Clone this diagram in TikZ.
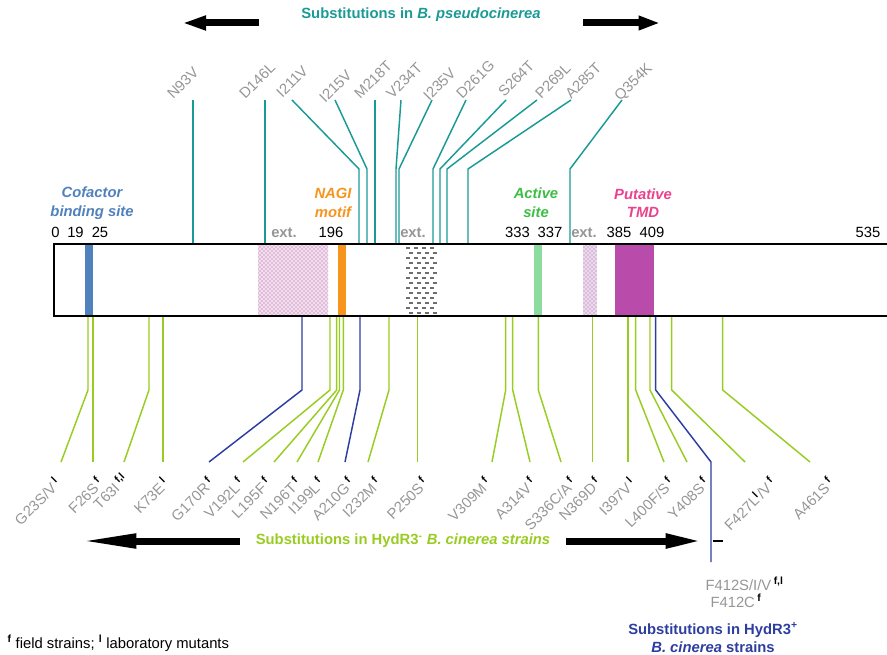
\documentclass[tikz,border=0pt]{standalone}
\usepackage{fontspec}
\setmainfont{Liberation Sans}
\usetikzlibrary{arrows.meta,patterns}

\definecolor{psteal}{RGB}{26,154,150}
\definecolor{hrlime}{RGB}{153,204,34}
\definecolor{hrblue}{RGB}{45,62,160}
\definecolor{mutgray}{RGB}{150,150,150}
\definecolor{cofblue}{RGB}{79,129,189}
\definecolor{nagiorange}{RGB}{247,148,30}
\definecolor{actgreen}{RGB}{60,190,70}
\definecolor{actband}{RGB}{140,220,160}
\definecolor{tmdpink}{RGB}{235,65,140}
\definecolor{tmdband}{RGB}{185,75,170}
\definecolor{extpink}{RGB}{180,80,160}
\definecolor{extpurple}{RGB}{170,100,175}
\definecolor{extgray}{RGB}{110,110,110}

\newcommand{\fsup}[1]{\textsuperscript{\textcolor{black}{\bfseries #1}}}

\tikzset{every picture/.style={line width=0.75pt},
  txt/.style={font=\fontsize{11.1}{14}\selectfont, inner sep=0pt},
  toplab/.style={txt, text=mutgray, rotate=45, anchor=base west},
  botlab/.style={txt, text=mutgray, rotate=45, anchor=base east},
  poslab/.style={txt, anchor=base},
  extlab/.style={txt, anchor=base, text=mutgray, font=\fontsize{11.1}{14}\selectfont\bfseries},
  domlab/.style={txt, align=center, font=\fontsize{11.1}{14}\selectfont\bfseries\itshape},
  pslink/.style={draw=psteal, line width=1.1pt},
  hrmlink/.style={draw=hrlime, line width=1.1pt},
  hrplink/.style={draw=hrblue, line width=1.1pt},
  fatarrow/.style={draw=black, line width=5.25pt}
}

\begin{document}
\begin{tikzpicture}[x=0.75pt,y=0.75pt,yscale=-1,xscale=1]
	\clip (0,0) rectangle (887,655);
	\coordinate (topknee) at (0,169);
	\coordinate (botknee) at (0,390);

	% Title B. pseudocinerea
	\node[txt, text=psteal, font=\fontsize{11.1}{14}\selectfont\bfseries] (pstitle) at (421,15) {Substitutions in \textit{B. pseudocinerea}};
	\coordinate (psla) at (259,23); \coordinate (pslb) at (182,23);
	\coordinate (psra) at (583,23); \coordinate (psrb) at (660,23);
	\draw[fatarrow, -{Triangle[length=18pt,width=10pt]}] (psla) -- (pslb);
	\draw[fatarrow, -{Triangle[length=16pt,width=10pt]}] (psra) -- (psrb);

	% Top labels
	\node[toplab] (n93) at (173,100) {N93V};
	\node[toplab] (d146) at (245,100) {D146L};
	\node[toplab] (i211) at (282,99) {I211V};
	\node[toplab] (i215) at (325,104) {I215V};
	\node[toplab] (m218) at (360,100) {M218T};
	\node[toplab] (v234) at (392,100) {V234T};
	\node[toplab] (i235) at (429,102) {I235V};
	\node[toplab] (d261) at (462,100) {D261G};
	\node[toplab] (s264) at (504,98) {S264T};
	\node[toplab] (p269) at (541,100) {P269L};
	\node[toplab] (a285) at (571,100) {A285T};
	\node[toplab] (q354) at (620,102) {Q354K};

	%Straight Lines (top)
	\coordinate (n93b) at (193,244); \coordinate (n93t) at (193,100);
	\draw[pslink] (n93b) -- (n93t);
	\coordinate (d146b) at (265,244); \coordinate (d146t) at (265,100);
	\draw[pslink] (d146b) -- (d146t);
	\coordinate (i211b) at (359,244); \coordinate (i211t) at (292,100);
	\draw[pslink] (i211b) -- (i211b |- topknee) -- (i211t);
	\coordinate (i215b) at (367,244); \coordinate (i215t) at (335,100);
	\draw[pslink] (i215b) -- (i215b |- topknee) -- (i215t);
	\coordinate (m218b) at (375,244); \coordinate (m218t) at (375,100);
	\draw[pslink] (m218b) -- (m218t);
	\coordinate (v234b) at (396,244); \coordinate (v234t) at (401,100);
	\draw[pslink] (v234b) -- (v234b |- topknee) -- (v234t);
	\coordinate (i235b) at (399,244); \coordinate (i235t) at (432,100);
	\draw[pslink] (i235b) -- (i235b |- topknee) -- (i235t);
	\coordinate (d261b) at (433,244); \coordinate (d261t) at (466,100);
	\draw[pslink] (d261b) -- (d261b |- topknee) -- (d261t);
	\coordinate (s264b) at (440,244); \coordinate (s264t) at (506,100);
	\draw[pslink] (s264b) -- (s264b |- topknee) -- (s264t);
	\coordinate (p269b) at (447,244); \coordinate (p269t) at (537,100);
	\draw[pslink] (p269b) -- (p269b |- topknee) -- (p269t);
	\coordinate (a285b) at (468,244); \coordinate (a285t) at (571,100);
	\draw[pslink] (a285b) -- (a285b |- topknee) -- (a285t);
	\coordinate (q354b) at (570,244); \coordinate (q354t) at (622,100);
	\draw[pslink] (q354b) -- (q354b |- topknee) -- (q354t);

	%Straight Lines (bottom)
	\coordinate (g23b) at (88,316); \coordinate (g23t) at (61,462);
	\draw[hrmlink] (g23b) -- (g23b |- botknee) -- (g23t);
	\coordinate (f26b) at (93,316); \coordinate (f26t) at (93,462);
	\draw[hrmlink] (f26b) -- (f26t);
	\coordinate (t63b) at (149,316); \coordinate (t63t) at (124,462);
	\draw[hrmlink] (t63b) -- (t63b |- botknee) -- (t63t);
	\coordinate (k73b) at (163,316); \coordinate (k73t) at (163,462);
	\draw[hrmlink] (k73b) -- (k73t);
	\coordinate (g170b) at (302,316); \coordinate (g170t) at (209,462);
	\draw[hrplink] (g170b) -- (g170b |- botknee) -- (g170t);
	\coordinate (v192b) at (330,316); \coordinate (v192t) at (243,462);
	\draw[hrmlink] (v192b) -- (v192b |- botknee) -- (v192t);
	\coordinate (l195b) at (336.7,316); \coordinate (l195t) at (274,462);
	\draw[hrmlink] (l195b) -- (l195b |- botknee) -- (l195t);
	\coordinate (n196b) at (339.5,316); \coordinate (n196t) at (297,462);
	\draw[hrmlink] (n196b) -- (n196b |- botknee) -- (n196t);
	\coordinate (i199b) at (343.3,316); \coordinate (i199t) at (318,462);
	\draw[hrmlink] (i199b) -- (i199b |- botknee) -- (i199t);
	\coordinate (a210b) at (360,316); \coordinate (a210t) at (345,462);
	\draw[hrplink] (a210b) -- (a210b |- botknee) -- (a210t);
	\coordinate (i232b) at (389,316); \coordinate (i232t) at (368,462);
	\draw[hrmlink] (i232b) -- (i232b |- botknee) -- (i232t);
	\coordinate (p250b) at (417.7,316); \coordinate (p250t) at (417.7,462);
	\draw[hrmlink] (p250b) -- (p250t);
	\coordinate (v309b) at (505.7,316); \coordinate (v309t) at (492,462);
	\draw[hrmlink] (v309b) -- (v309b |- botknee) -- (v309t);
	\coordinate (a314b) at (512.7,316); \coordinate (a314t) at (530,462);
	\draw[hrmlink] (a314b) -- (a314b |- botknee) -- (a314t);
	\coordinate (s336b) at (538.3,316); \coordinate (s336t) at (561,462);
	\draw[hrmlink] (s336b) -- (s336b |- botknee) -- (s336t);
	\coordinate (n369b) at (592.3,316); \coordinate (n369t) at (592.3,462);
	\draw[hrmlink] (n369b) -- (n369t);
	\coordinate (i397b) at (628,316); \coordinate (i397t) at (628,462);
	\draw[hrmlink] (i397b) -- (i397t);
	\coordinate (l400b) at (635.7,316); \coordinate (l400t) at (664,462);
	\draw[hrmlink] (l400b) -- (l400b |- botknee) -- (l400t);
	\coordinate (y408b) at (650,316); \coordinate (y408t) at (687,462);
	\draw[hrmlink] (y408b) -- (y408b |- botknee) -- (y408t);
	\coordinate (f412b) at (655.7,316); \coordinate (f412t) at (711,462); \coordinate (f412e) at (711,562);
	\draw[hrplink] (f412b) -- (f412b |- botknee) -- (f412t) -- (f412e);
	\coordinate (f427b) at (671.7,316); \coordinate (f427t) at (745,462);
	\draw[hrmlink] (f427b) -- (f427b |- botknee) -- (f427t);
	\coordinate (a461b) at (722.7,316); \coordinate (a461t) at (810,462);
	\draw[hrmlink] (a461b) -- (a461b |- botknee) -- (a461t);

	%Shape: bar with domains
	\fill[cofblue] (85,245) rectangle (93,315);
	\fill[nagiorange] (338,245) rectangle (346,315);
	\fill[actband] (534,245) rectangle (542,315);
	\fill[tmdband] (615,245) rectangle (654,315);
	\fill[extpink!18] (258,245) rectangle (328,315);
	\fill[pattern=crosshatch dots, pattern color=extpink] (258,245) rectangle (328,315);
	\fill[extpurple!25] (583,245) rectangle (597,315);
	\fill[pattern=crosshatch dots, pattern color=extpurple] (583,245) rectangle (597,315);
	\foreach \r in {0,...,13}{
	  \foreach \c in {0,1,2,3}{
	    \draw[extgray, line width=0.9pt] ({406+8*\c+mod(\r,2)*3},{248+5*\r}) -- ++(4,0);
	  }
	}
	\draw[line width=1.9pt] (54,244) rectangle (900,316);

	% Domain labels
	\node[domlab, text=cofblue] (cof) at (92,203) {Cofactor\\binding site};
	\node[domlab, text=nagiorange] (nagi) at (333,203) {NAGI\\motif};
	\node[domlab, text=actgreen] (act) at (536,203) {Active\\site};
	\node[domlab, text=tmdpink] (tmd) at (643,203) {Putative\\TMD};

	% Positions
	\node[poslab] (p0) at (55.5,238) {0};
	\node[poslab] (p19) at (75.5,238) {19};
	\node[poslab] (p25) at (100,238) {25};
	\node[extlab] (ext1) at (284,238) {ext.};
	\node[poslab] (p196) at (331,238) {196};
	\node[extlab] (ext2) at (413,238) {ext.};
	\node[poslab] (p333) at (517.5,238) {333};
	\node[poslab] (p337) at (550,238) {337};
	\node[extlab] (ext3) at (584,238) {ext.};
	\node[poslab] (p385) at (619,238) {385};
	\node[poslab] (p409) at (652,238) {409};
	\node[poslab] (p535) at (868,238) {535};

	% Bottom labels
	\node[botlab] (g23) at (58,489) {G23S/V\rlap{\,\fsup{l}}};
	\node[botlab] (f26) at (100,489) {F26S\rlap{\,\fsup{f}}};
	\node[botlab] (t63) at (121,489) {T63I\rlap{\,\fsup{f,l}}};
	\node[botlab] (k73) at (166,489) {K73E\rlap{\,\fsup{l}}};
	\node[botlab] (g170) at (211,489) {G170R\rlap{\,\fsup{f}}};
	\node[botlab] (v192) at (241,489) {V192L\rlap{\,\fsup{f}}};
	\node[botlab] (l195) at (268,489) {L195F\rlap{\,\fsup{f}}};
	\node[botlab] (n196) at (298,489) {N196T\rlap{\,\fsup{f}}};
	\node[botlab] (i199) at (321,489) {I199L\rlap{\,\fsup{f}}};
	\node[botlab] (a210) at (351,489) {A210G\rlap{\,\fsup{f}}};
	\node[botlab] (i232) at (378,489) {I232M\rlap{\,\fsup{f}}};
	\node[botlab] (p250) at (425,489) {P250S\rlap{\,\fsup{f}}};
	\node[botlab] (v309) at (488,489) {V309M\rlap{\,\fsup{f}}};
	\node[botlab] (a314) at (533,489) {A314V\rlap{\,\fsup{f}}};
	\node[botlab] (s336) at (573,489) {S336C/A\rlap{\,\fsup{f}}};
	\node[botlab] (n369) at (598,489) {N369D\rlap{\,\fsup{f}}};
	\node[botlab] (i397) at (633,489) {I397V\rlap{\,\fsup{l}}};
	\node[botlab] (l400) at (671,489) {L400F/S\rlap{\,\fsup{f}}};
	\node[botlab] (y408) at (706,489) {Y408S\rlap{\,\fsup{f}}};
	\node[botlab] (f427) at (773,489) {F427L\fsup{l}/V\rlap{\,\fsup{f}}};
	\node[botlab] (a461) at (831,489) {A461S\rlap{\,\fsup{f}}};

	% Title HydR3- strains
	\node[txt, text=hrlime, font=\fontsize{11.1}{14}\selectfont\bfseries] (hrmtitle) at (403,541) {Substitutions in HydR3\textsuperscript{-} \textit{B. cinerea strains}};
	\coordinate (hrla) at (240,541); \coordinate (hrlb) at (79,541);
	\coordinate (hrra) at (566,541); \coordinate (hrrb) at (703,541);
	\draw[fatarrow, -{Triangle[length=43pt,width=10pt]}] (hrla) -- (hrlb);
	\draw[fatarrow, -{Triangle[length=28pt,width=10pt]}] (hrra) -- (hrrb);
	\draw[line width=1.5pt] (713,541) -- (723,541);

	% F412 and HydR3+ strains
	\node[txt, text=mutgray, anchor=base west] (f412a) at (705,590) {F412S/I/V\,\fsup{f,l}};
	\node[txt, text=mutgray, anchor=base west] (f412c) at (710,607) {F412C\,\fsup{f}};
	\node[domlab, text=hrblue, font=\fontsize{11.1}{14}\selectfont\bfseries] (hrptitle) at (713,638) {Substitutions in HydR3\textsuperscript{+}\\\textit{B. cinerea} strains};

	% Legend
	\node[txt, anchor=base west] (legend) at (7,648) {\fsup{f} field strains; \fsup{l} laboratory mutants};

\end{tikzpicture}
\end{document}
